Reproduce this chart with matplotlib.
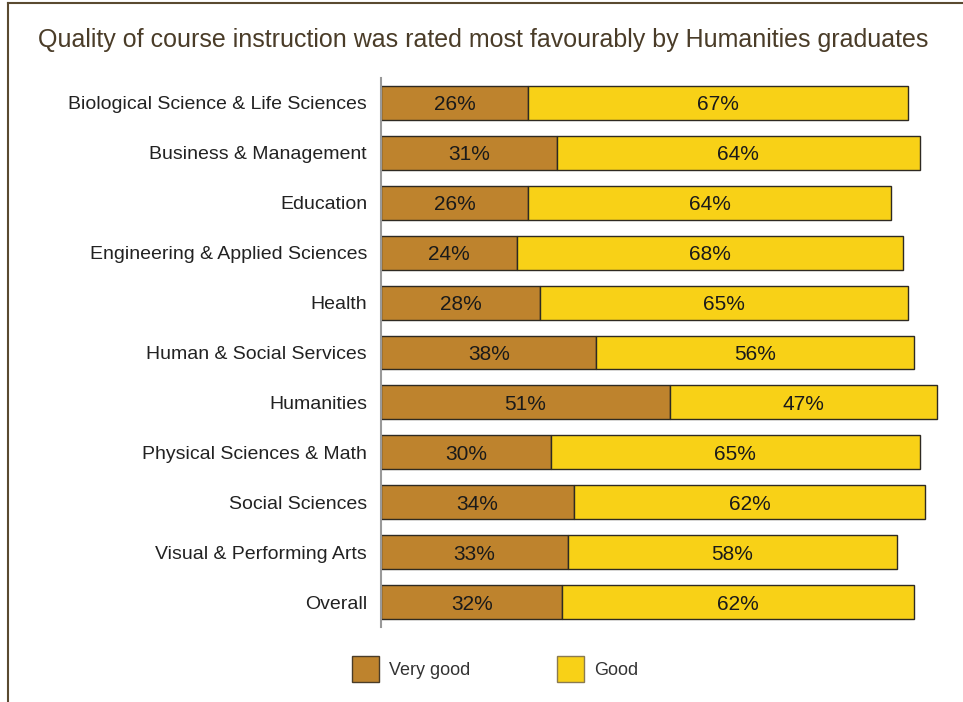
import matplotlib
matplotlib.use("Agg")
import matplotlib.pyplot as plt
from matplotlib.patches import Patch
from matplotlib.lines import Line2D

categories = ["Biological Science & Life Sciences", "Business & Management", "Education",
              "Engineering & Applied Sciences", "Health", "Human & Social Services",
              "Humanities", "Physical Sciences & Math", "Social Sciences",
              "Visual & Performing Arts", "Overall"]
very_good = [26, 31, 26, 24, 28, 38, 51, 30, 34, 33, 32]
good = [67, 64, 64, 68, 65, 56, 47, 65, 62, 58, 62]
series_names = ["Very good", "Good"]
title = "Quality of course instruction was rated most favourably by Humanities graduates"

C_VG = "#BE832D"
C_G = "#F8D117"
EDGE = "#2e2a22"

plt.rcParams['font.family'] = ['Liberation Sans', 'DejaVu Sans']

fig = plt.figure(figsize=(9.63, 7.02), dpi=100)
ax = fig.add_axes([381/963, 1-627/702, 567/963, (627-78)/702])

y = list(range(len(categories)))
h = 0.68
ax.barh(y, very_good, height=h, color=C_VG, edgecolor=EDGE, linewidth=1.0)
ax.barh(y, good, left=very_good, height=h, color=C_G, edgecolor=EDGE, linewidth=1.0)

for i, (a, b) in enumerate(zip(very_good, good)):
    ax.text(a/2, i, f"{a}%", ha="center", va="center_baseline", fontsize=15, color="#1a1a1a")
    ax.text(a + b/2, i, f"{b}%", ha="center", va="center_baseline", fontsize=15, color="#1a1a1a")

ax.set_xlim(0, 100)
ax.set_ylim(len(categories)-0.5, -0.5)
ax.set_yticks(y)
ax.set_yticklabels(categories, fontsize=14, color="#222222")
ax.tick_params(axis='y', length=0, pad=10)
ax.set_xticks([])
for s in ["top", "right", "bottom"]:
    ax.spines[s].set_visible(False)
ax.spines["left"].set_color("#999999")
ax.spines["left"].set_linewidth(1.5)

fig.text(38/963, 1-40/702, title, fontsize=18.0, color="#4a3c28", ha="left", va="center")

handles = [Patch(facecolor=C_VG, edgecolor="#4a3c28", label=series_names[0]),
           Patch(facecolor=C_G, edgecolor="#8a7a50", label=series_names[1])]
fig.legend(handles=handles, loc="center left", bbox_to_anchor=(336/963, 1-669/702),
           ncol=2, frameon=False, handlelength=1.5, handleheight=1.9,
           handletextpad=0.55, columnspacing=4.8, labelcolor="#333333",
           prop={'size': 13})

fig.add_artist(Line2D([8/963, 8/963], [0, 1-3/702], transform=fig.transFigure, color="#5a4a30", lw=1.5))
fig.add_artist(Line2D([8/963, 1], [1-3/702, 1-3/702], transform=fig.transFigure, color="#5a4a30", lw=1.5))

fig.savefig("out.png", dpi=100)
